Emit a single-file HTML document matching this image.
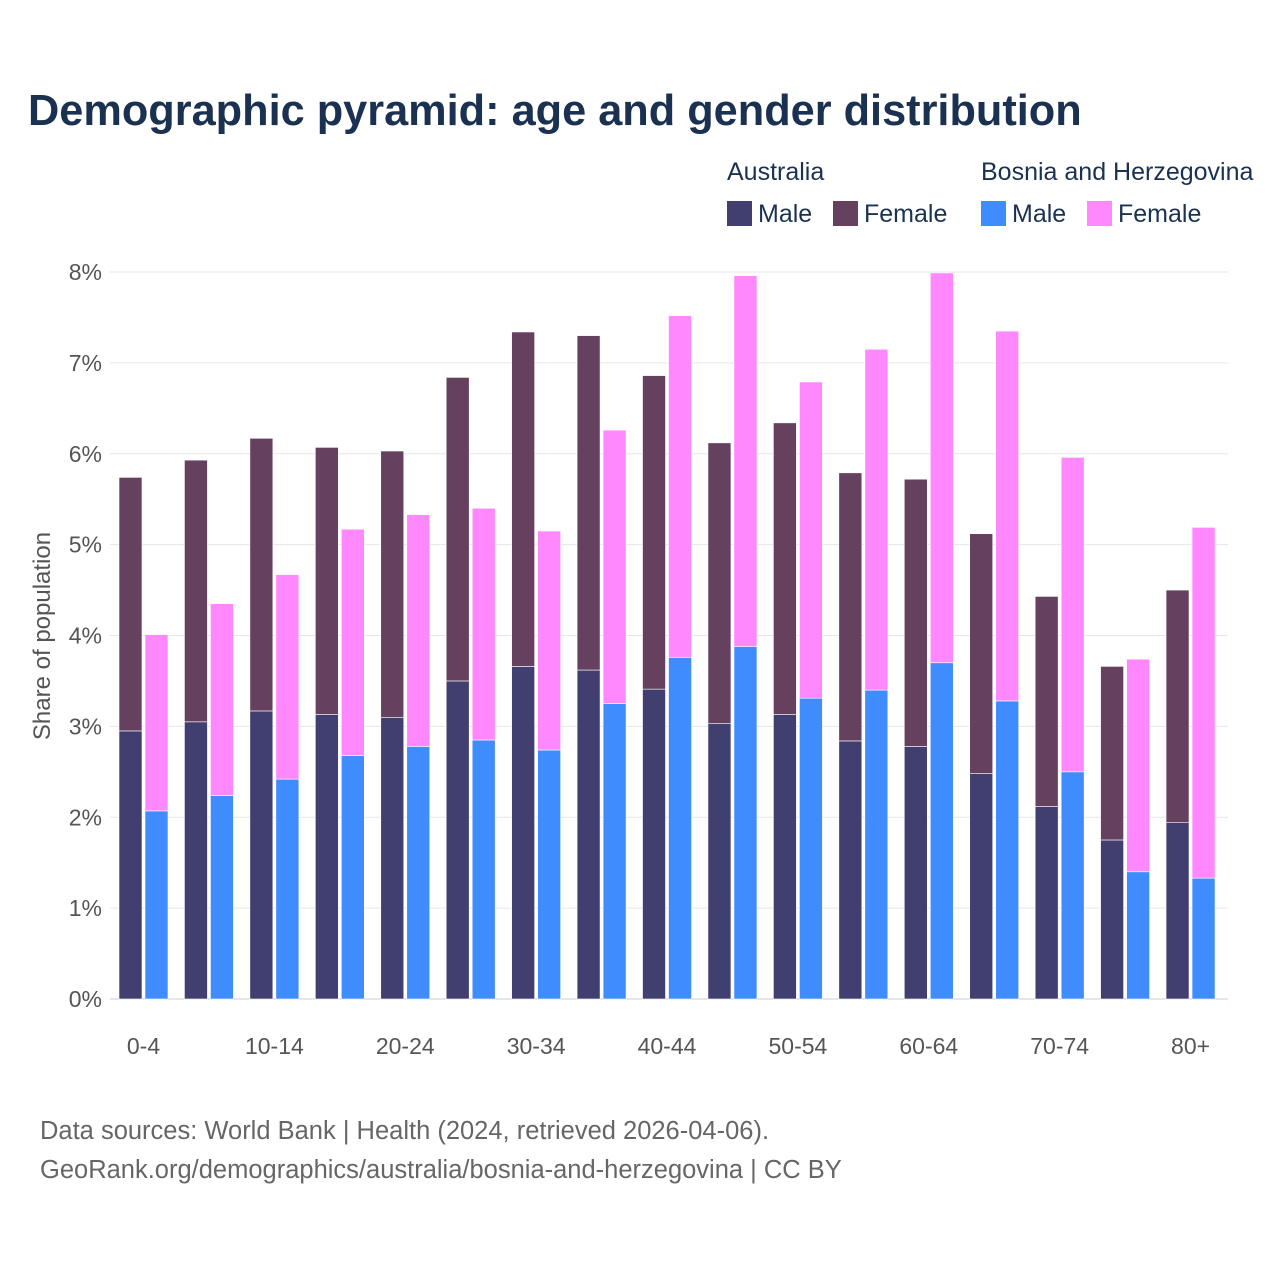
<!DOCTYPE html>
<html><head><meta charset="utf-8">
<style>
body{margin:0;background:#fff;font-family:"Liberation Sans",sans-serif;}
#wrap{position:relative;width:1280px;height:1280px;overflow:hidden;}
</style></head>
<body>
<div id="wrap">
<svg id="chart" width="1280" height="1280" xmlns="http://www.w3.org/2000/svg">
<text x="28" y="125" font-size="43.3" font-weight="bold" fill="#1b3152">Demographic pyramid: age and gender distribution</text>
<g font-size="25" fill="#1b3152">
<text x="727" y="180">Australia</text>
<text x="981" y="180">Bosnia and Herzegovina</text>
<rect x="727" y="201" width="25" height="25" fill="#413f6f"/>
<text x="758" y="222">Male</text>
<rect x="833" y="201" width="25" height="25" fill="#66405f"/>
<text x="864" y="222">Female</text>
<rect x="981" y="201" width="25" height="25" fill="#3f8cff"/>
<text x="1012" y="222">Male</text>
<rect x="1087" y="201" width="25" height="25" fill="#ff88ff"/>
<text x="1118" y="222">Female</text>
</g>
<text transform="translate(50,636) rotate(-90)" text-anchor="middle" font-size="24" fill="#555">Share of population</text>
<g id="grid"></g><g id="bars"></g><g id="xlabels"></g>
<text x="40" y="1139" font-size="25.5" fill="#666">Data sources: World Bank | Health (2024, retrieved 2026-04-06).</text>
<text x="40" y="1178" font-size="25.5" fill="#666">GeoRank.org/demographics/australia/bosnia-and-herzegovina | CC BY</text>
</svg>
</div>
<script>
const categories=["0-4","5-9","10-14","15-19","20-24","25-29","30-34","35-39","40-44","45-49","50-54","55-59","60-64","65-69","70-74","75-79","80+"];
const auMale=[2.95,3.05,3.17,3.13,3.10,3.50,3.66,3.62,3.41,3.03,3.13,2.84,2.78,2.48,2.12,1.75,1.94];
const auTotal=[5.74,5.93,6.17,6.07,6.03,6.84,7.34,7.30,6.86,6.12,6.34,5.79,5.72,5.12,4.43,3.66,4.50];
const baMale=[2.07,2.24,2.42,2.68,2.78,2.85,2.74,3.25,3.76,3.88,3.31,3.40,3.70,3.28,2.50,1.40,1.33];
const baTotal=[4.01,4.35,4.67,5.17,5.33,5.40,5.15,6.26,7.52,7.96,6.79,7.15,7.99,7.35,5.96,3.74,5.19];
const yTicks=[0,1,2,3,4,5,6,7,8];
const NS="http://www.w3.org/2000/svg";
const y0=999, pxPer=90.875, x0=143.5, step=65.44, bw=23;
const Y=v=>y0-v*pxPer;
const X=i=>x0+i*step;
function mk(tag,attrs,parent){const e=document.createElementNS(NS,tag);for(const k in attrs)e.setAttribute(k,attrs[k]);parent.appendChild(e);return e;}
const grid=document.getElementById('grid');
yTicks.forEach(t=>{
  const l=mk('line',{x1:110,x2:1228,y1:Y(t),y2:Y(t),stroke:t===0?'#ccc':'#e6e6e6','stroke-width':1},grid);
  
  
  const tx=mk('text',{x:102,y:Y(t)+8,'text-anchor':'end','font-size':23,fill:'#555'},grid);
  tx.textContent=t+'%';
  
  
});
const bars=document.getElementById('bars');
function bar(x,lo,hi,color,name){
  const r=mk('rect',{x:x,y:Y(hi),width:bw,height:Y(lo)-Y(hi),fill:color,stroke:'#fff','stroke-width':0.6},bars);
  
  
}
categories.forEach((c,i)=>{
  const cx=X(i);
  bar(cx-bw-1.5,0,auMale[i],'#413f6f','bar-au-male-'+c);
  bar(cx-bw-1.5,auMale[i],auTotal[i],'#66405f','bar-au-female-'+c);
  bar(cx+1.5,0,baMale[i],'#3f8cff','bar-ba-male-'+c);
  bar(cx+1.5,baMale[i],baTotal[i],'#ff88ff','bar-ba-female-'+c);
  if(i%2===0){
    const t=mk('text',{x:cx,y:1054,'text-anchor':'middle','font-size':23,fill:'#555'},document.getElementById('xlabels'));
    t.textContent=c;
    
    
  }
});
</script>
</body></html>
